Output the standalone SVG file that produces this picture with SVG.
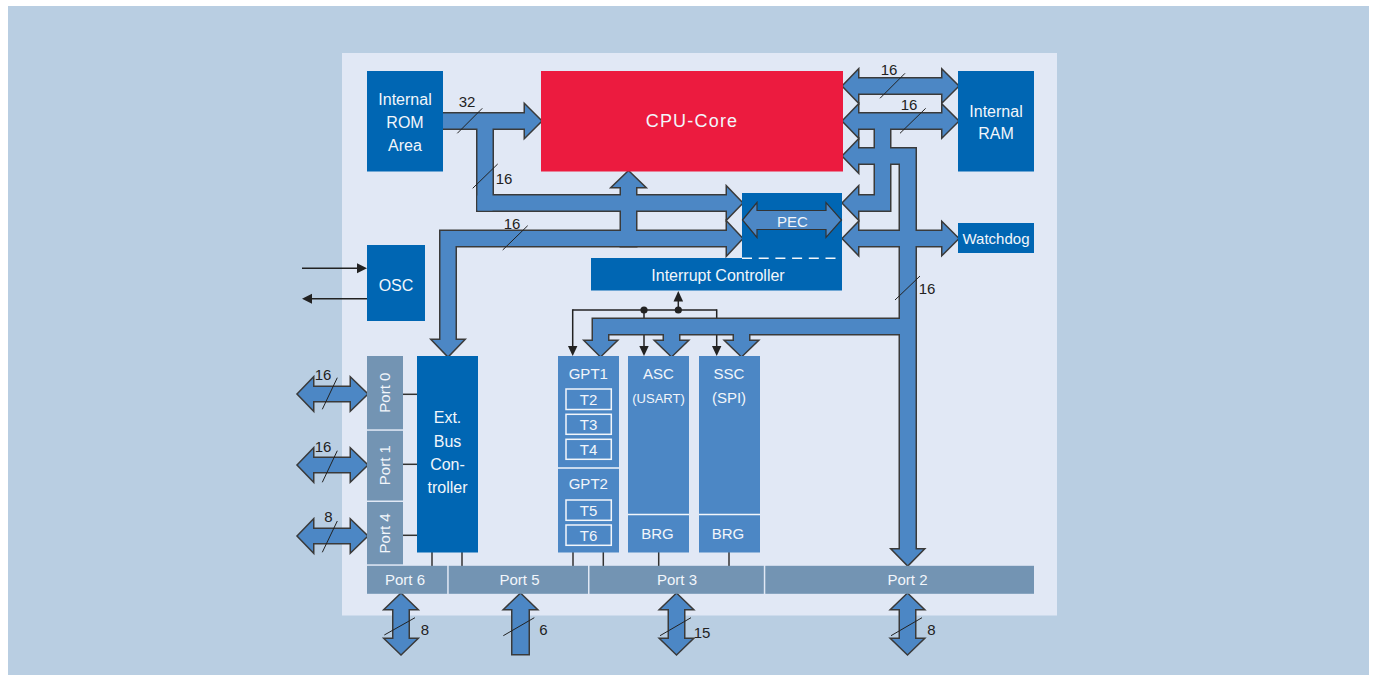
<svg xmlns="http://www.w3.org/2000/svg" xmlns:xlink="http://www.w3.org/1999/xlink" width="1375" height="675" viewBox="0 0 1375 675">
<style>
.t{font-family:"Liberation Sans",Arial,sans-serif;fill:#f2f6fb;text-anchor:middle}
.lbl{font-family:"Liberation Sans",Arial,sans-serif;fill:#222;font-size:15px;text-anchor:middle}
.dark{fill:#0066b3}
.per{fill:#4c87c5}
.port{fill:#7394b3}
.busStroke{fill:#4c87c5;stroke:#3a3a3a;stroke-width:3;stroke-linejoin:miter}
.busFill{fill:#4c87c5;stroke:none}
.thin{stroke:#222;stroke-width:1.5;fill:none}
.slash{stroke:#222;stroke-width:1;fill:none}
.conn{stroke:#333;stroke-width:1.5}
.tbox{fill:none;stroke:#f2f6fb;stroke-width:1.5}
</style>
<defs>
<g id="busShape">
<polygon points="443,113.5 525,113.5 525,105 541,121 525,137 525,128.5 443,128.5"/>
<rect x="477.5" y="121" width="15" height="89.5"/>
<polygon points="477.5,195.5 727,195.5 727,187.5 742,203 727,218.5 727,210.5 477.5,210.5"/>
<polygon points="621,246 621,187 612.5,187 628.5,171.5 644.5,187 636,187 636,246"/>
<polygon points="432.5,340 440.5,340 440.5,231 727,231 727,222.5 742,238.5 727,254.5 727,246 455.5,246 455.5,340 463.5,340 448,356"/>
<polygon points="843,86 858,70.5 858,78.5 942.5,78.5 942.5,70.5 958,86 942.5,101.5 942.5,93.5 858,93.5 858,101.5"/>
<polygon points="843,121 858,105.5 858,113.5 942.5,113.5 942.5,105.5 958,121 942.5,136.5 942.5,128.5 890,128.5 890,210.5 858,210.5 858,218.5 843,203 858,187.5 858,195.5 875,195.5 875,128.5 858,128.5 858,136.5"/>
<polygon points="843,156 858,140.5 858,148.5 915.5,148.5 915.5,549.5 923,549.5 907.75,565 892.5,549.5 900,549.5 900,163.5 858,163.5 858,171.5"/>
<polygon points="843,238.5 858,223 858,231 942.5,231 942.5,223 958,238.5 942.5,254 942.5,246 858,246 858,254"/>
<polygon points="900,319 593,319 593,341 585.5,341 600.5,356 616,341 608,341 608,334 664,334 664,341 656,341 671.5,356 687,341 679,341 679,334 734,334 734,341 726,341 741.5,356 757,341 749,341 749,334 900,334"/>
<polygon points="298,394 313,378.5 313,387 351,387 351,378.5 367,394 351,409.5 351,401 313,401 313,409.5"/>
<polygon points="298,465 313,449.5 313,458 351,458 351,449.5 367,465 351,480.5 351,472 313,472 313,480.5"/>
<polygon points="298,536 313,520.5 313,529 351,529 351,520.5 367,536 351,551.5 351,543 313,543 313,551.5"/>
<polygon points="401,594 416.5,609 408.5,609 408.5,639 416.5,639 401,654 385.5,639 393.5,639 393.5,609 385.5,609"/>
<polygon points="520.5,594 536,609 528.5,609 528.5,654 512.5,654 512.5,609 505,609"/>
<polygon points="676.5,594 692,609 684,609 684,639 692,639 676.5,654 661,639 669,639 669,609 661,609"/>
<polygon points="907.5,594 923,609 915,609 915,639 923,639 907.5,654 892,639 900,639 900,609 892,609"/>
</g>
</defs>
<rect x="0" y="0" width="1375" height="675" fill="#ffffff"/>
<rect x="8" y="6" width="1361" height="669" fill="#b9cee2"/>
<rect x="342" y="53" width="715" height="562.5" fill="#e1e8f5"/>

<g id="connectors">
<line class="thin" x1="572.7" y1="310" x2="716.7" y2="310"/>
<line class="thin" x1="678.3" y1="310" x2="678.3" y2="300"/>
<polygon points="673.5,301.5 678.3,291 683.1,301.5" fill="#222"/>
<line class="thin" x1="572.7" y1="309.25" x2="572.7" y2="347"/>
<polygon points="568,346 572.7,356 577.4,346" fill="#222"/>
<line class="thin" x1="644" y1="310" x2="644" y2="347"/>
<polygon points="639.3,346 644,356 648.7,346" fill="#222"/>
<line class="thin" x1="716.7" y1="309.25" x2="716.7" y2="347"/>
<polygon points="712,346 716.7,356 721.4,346" fill="#222"/>
<circle cx="644" cy="310" r="3.6" fill="#222"/>
<circle cx="678.3" cy="310" r="3.6" fill="#222"/>
<line class="thin" x1="302" y1="268.3" x2="358" y2="268.3"/>
<polygon points="357,263.3 367,268.3 357,273.3" fill="#222"/>
<line class="thin" x1="311" y1="298.7" x2="367" y2="298.7"/>
<polygon points="312,293.7 302,298.7 312,303.7" fill="#222"/>
<line class="conn" x1="403" y1="394.3" x2="417" y2="394.3"/>
<line class="conn" x1="403" y1="464.3" x2="417" y2="464.3"/>
<line class="conn" x1="403" y1="535.3" x2="417" y2="535.3"/>
<line class="conn" x1="432" y1="552" x2="432" y2="566"/>
<line class="conn" x1="462" y1="552" x2="462" y2="566"/>
<line class="conn" x1="573" y1="552" x2="573" y2="566"/>
<line class="conn" x1="603.3" y1="552" x2="603.3" y2="566"/>
<line class="conn" x1="658.7" y1="552" x2="658.7" y2="566"/>
<line class="conn" x1="729" y1="552" x2="729" y2="566"/>
<use xlink:href="#busShape" href="#busShape" class="busStroke"/>
<use xlink:href="#busShape" href="#busShape" class="busFill"/>
<line class="slash" x1="457.3" y1="133.3" x2="482.3" y2="108.3"/>
<text class="lbl" x="467" y="107">32</text>
<line class="slash" x1="472.7" y1="188.3" x2="497.7" y2="164"/>
<text class="lbl" x="504" y="184">16</text>
<line class="slash" x1="502.7" y1="250" x2="527.7" y2="225.7"/>
<text class="lbl" x="512" y="228.5">16</text>
<line class="slash" x1="880" y1="98.3" x2="905" y2="73.3"/>
<text class="lbl" x="889" y="75">16</text>
<line class="slash" x1="900" y1="133.3" x2="925.7" y2="108.3"/>
<text class="lbl" x="909" y="110">16</text>
<line class="slash" x1="895" y1="300" x2="920" y2="276"/>
<text class="lbl" x="927" y="293.5">16</text>
<line class="slash" x1="322.3" y1="409.3" x2="337.3" y2="377.7"/>
<text class="lbl" x="323" y="380">16</text>
<line class="slash" x1="322.3" y1="482.3" x2="337.3" y2="450.7"/>
<text class="lbl" x="323" y="452.3">16</text>
<line class="slash" x1="322.3" y1="552.3" x2="337.3" y2="521"/>
<text class="lbl" x="328.5" y="521.7">8</text>
<line class="slash" x1="384.3" y1="635" x2="415" y2="617.7"/>
<text class="lbl" x="425" y="635">8</text>
<line class="slash" x1="503.3" y1="635.7" x2="534.3" y2="617.7"/>
<text class="lbl" x="543.3" y="635">6</text>
<line class="slash" x1="660" y1="635.7" x2="691" y2="617.7"/>
<text class="lbl" x="702" y="637.5">15</text>
<line class="slash" x1="891" y1="635.7" x2="922" y2="617.7"/>
<text class="lbl" x="931.3" y="635">8</text>
</g>

<g id="nodes">
<g id="rom">
<rect class="dark" x="367" y="71" width="76" height="100.5"/>
<text class="t" font-size="16" x="405" y="104.5">Internal</text>
<text class="t" font-size="16" x="405" y="127.7">ROM</text>
<text class="t" font-size="16" x="405" y="150.7">Area</text>
</g>
<g id="cpu">
<rect x="541" y="71" width="302" height="100.5" fill="#ec1b3f"/>
<text class="t" font-size="18" letter-spacing="1.2" x="692" y="127.3">CPU-Core</text>
</g>
<g id="ram">
<rect class="dark" x="958" y="71" width="76" height="100.5"/>
<text class="t" font-size="16" x="996" y="116.7">Internal</text>
<text class="t" font-size="16" x="996" y="139">RAM</text>
</g>
<g id="watchdog">
<rect class="dark" x="958" y="223" width="76" height="30"/>
<text class="t" font-size="15" x="996" y="244">Watchdog</text>
</g>
<g id="pec">
<rect class="dark" x="742" y="193" width="100" height="65"/>
<polygon points="742.5,220 757,202.5 757,210.5 826,210.5 826,202.5 841.5,220 826,237.5 826,229.5 757,229.5 757,237.5" fill="#4c87c5" stroke="#333" stroke-width="1.2"/>
<text class="t" font-size="15" x="792.3" y="226.5">PEC</text>
</g>
<g id="interrupt-controller">
<rect class="dark" x="591" y="258" width="251" height="32.5"/>
<line x1="742" y1="258.3" x2="842" y2="258.3" stroke="#f2f6fb" stroke-width="1.5" stroke-dasharray="10,6.7"/>
<text class="t" font-size="16" x="718" y="280.7">Interrupt Controller</text>
</g>
<g id="osc">
<rect class="dark" x="367" y="245" width="58" height="76"/>
<text class="t" font-size="16" x="396" y="290.7">OSC</text>
</g>
<g id="ext-bus-controller">
<rect class="dark" x="417" y="356" width="61" height="196.5"/>
<text class="t" font-size="16" x="447.5" y="423.3">Ext.</text>
<text class="t" font-size="16" x="447.5" y="446.7">Bus</text>
<text class="t" font-size="16" x="447.5" y="470">Con-</text>
<text class="t" font-size="16" x="447.5" y="492.7">troller</text>
</g>
<g id="port0">
<rect class="port" x="367" y="356" width="36" height="73.3"/>
<text class="t" font-size="15" transform="translate(390.3,392.7) rotate(-90)" x="0" y="0">Port 0</text>
</g>
<g id="port1">
<rect class="port" x="367" y="430.8" width="36" height="69.7"/>
<text class="t" font-size="15" transform="translate(390.3,465.2) rotate(-90)" x="0" y="0">Port 1</text>
</g>
<g id="port4">
<rect class="port" x="367" y="502" width="36" height="62.3"/>
<text class="t" font-size="15" transform="translate(390.3,533.4) rotate(-90)" x="0" y="0">Port 4</text>
</g>
<g id="port6">
<rect class="port" x="367" y="565.8" width="80.2" height="28"/>
<text class="t" font-size="15" x="405" y="585">Port 6</text>
</g>
<g id="port5">
<rect class="port" x="448.7" y="565.8" width="139.3" height="28"/>
<text class="t" font-size="15" x="519.5" y="585">Port 5</text>
</g>
<g id="port3">
<rect class="port" x="589.5" y="565.8" width="174.3" height="28"/>
<text class="t" font-size="15" x="677" y="585">Port 3</text>
</g>
<g id="port2">
<rect class="port" x="765.3" y="565.8" width="268.7" height="28"/>
<text class="t" font-size="15" x="907.5" y="585">Port 2</text>
</g>
<g id="gpt">
<rect class="per" x="558" y="356" width="61" height="196.5"/>
<text class="t" font-size="15" x="588.3" y="379.3">GPT1</text>
<rect class="tbox" x="566" y="389" width="45.3" height="20.5"/>
<text class="t" font-size="15" x="588.6" y="405">T2</text>
<rect class="tbox" x="566" y="414.3" width="45.3" height="20"/>
<text class="t" font-size="15" x="588.6" y="430">T3</text>
<rect class="tbox" x="566" y="439.3" width="45.3" height="20"/>
<text class="t" font-size="15" x="588.6" y="455">T4</text>
<line x1="558" y1="468" x2="619" y2="468" stroke="#f2f6fb" stroke-width="1.5"/>
<text class="t" font-size="15" x="588.3" y="489">GPT2</text>
<rect class="tbox" x="566" y="500" width="45.3" height="20.3"/>
<text class="t" font-size="15" x="588.6" y="515.5">T5</text>
<rect class="tbox" x="566" y="525" width="45.3" height="20.3"/>
<text class="t" font-size="15" x="588.6" y="540.5">T6</text>
</g>
<g id="asc">
<rect class="per" x="628" y="356" width="61" height="196.5"/>
<text class="t" font-size="15" x="658.5" y="379.3">ASC</text>
<text class="t" font-size="13" x="658.5" y="402.7">(USART)</text>
<line x1="628" y1="514.5" x2="689" y2="514.5" stroke="#f2f6fb" stroke-width="1.5"/>
<text class="t" font-size="15" x="657.5" y="539.3">BRG</text>
</g>
<g id="ssc">
<rect class="per" x="699" y="356" width="61" height="196.5"/>
<text class="t" font-size="15" x="729" y="379.3">SSC</text>
<text class="t" font-size="15" x="729" y="402.7">(SPI)</text>
<line x1="699" y1="514.5" x2="760" y2="514.5" stroke="#f2f6fb" stroke-width="1.5"/>
<text class="t" font-size="15" x="728" y="539.3">BRG</text>
</g>
</g>
</svg>
